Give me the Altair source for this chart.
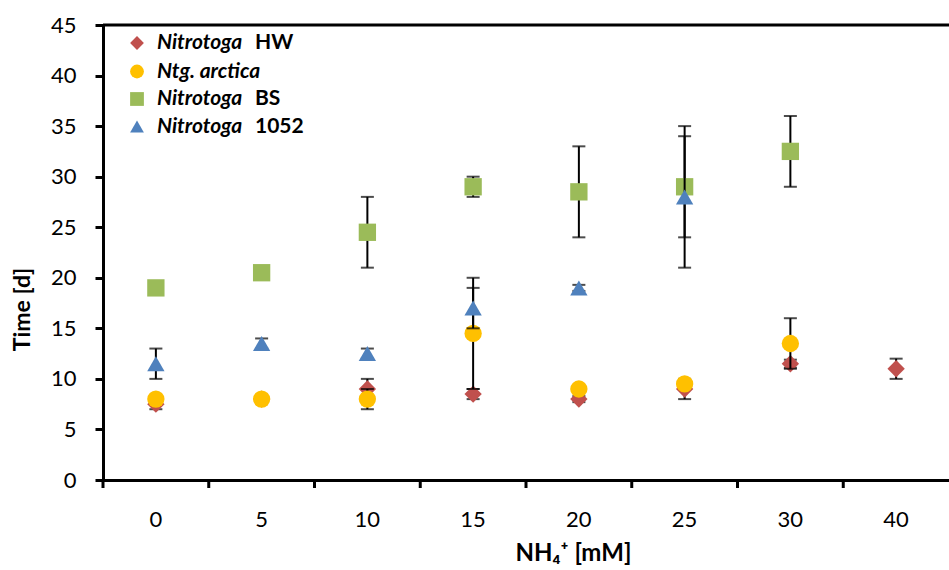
import altair as alt
import pandas as pd

categories = ["0", "5", "10", "15", "20", "25", "30", "40"]

series_names = ["Nitrotoga HW", "Ntg. arctica", "Nitrotoga BS", "Nitrotoga 1052"]
hw_vals = [7.5, 8.0, 9.0, 8.5, 8.0, 9.0, 11.5, 11.0]
hw_err = [0.5, 0.3, 1.0, 0.5, 0.3, 1.0, 0.4, 1.0]
arc_vals = [8.0, 8.0, 8.0, 14.5, 9.0, 9.5, 13.5, None]
arc_err = [0.3, 0.2, 1.0, 5.5, 0.3, 0.4, 2.5, None]
bs_vals = [19.0, 20.5, 24.5, 29.0, 28.5, 29.0, 32.5, None]
bs_err = [0.3, 0.3, 3.5, 1.0, 4.5, 5.0, 3.5, None]
n1052_vals = [11.5, 13.5, 12.5, 17.0, 19.0, 28.0, None, None]
n1052_err = [1.5, 0.5, 0.5, 2.0, 0.3, 7.0, None, None]

colors = ["#C0504D", "#FFC000", "#9BBB59", "#4F81BD"]
shapes = ["diamond", "circle", "square", "triangle-up"]
legend_italic = ["Nitrotoga", "Ntg. arctica", "Nitrotoga", "Nitrotoga"]
legend_plain = ["HW", "", "BS", "1052"]

all_vals = [hw_vals, arc_vals, bs_vals, n1052_vals]
all_errs = [hw_err, arc_err, bs_err, n1052_err]

FONT = "Lato"
W, H = 846, 455

rows = []
for name, vals, errs in zip(series_names, all_vals, all_errs):
    for c, v, e in zip(categories, vals, errs):
        if v is None:
            continue
        rows.append({"series": name, "conc": c, "value": v,
                     "low": v - e, "high": v + e})
df = pd.DataFrame(rows)

xscale = alt.Scale(domain=categories, paddingInner=0, paddingOuter=0)
xaxis = alt.Axis(title="NH₄⁺ [mM]", ticks=False, tickSize=0,
                 labelAngle=0, labelAlign="center", labelBaseline="top",
                 labelPadding=29, labelFontSize=22,
                 labelFont=FONT, labelColor="#000000",
                 domainColor="#000000", domainWidth=3,
                 titleFont=FONT, titleFontSize=24, titleFontWeight="bold",
                 titleColor="#000000", titleX=470, titleY=73,
                 titleAlign="center", titleBaseline="middle")
yscale = alt.Scale(domain=[0, 45], nice=False)
yaxis = alt.Axis(title="Time [d]", values=list(range(0, 46, 5)),
                 grid=False, tickSize=8, tickWidth=3, tickColor="#000000",
                 domainColor="#000000", domainWidth=3,
                 labelFont=FONT, labelFontSize=22, labelColor="#000000",
                 labelPadding=19,
                 titleFont=FONT, titleFontSize=23, titleFontWeight="bold",
                 titleColor="#000000", titleX=-81, titleY=284,
                 titleAngle=-90, titleAlign="center", titleBaseline="middle")

xenc = alt.X("conc:N", sort=categories, scale=xscale, axis=xaxis)


def yq(field):
    return alt.Y(field, scale=yscale, axis=yaxis)


layers = []

# x axis ticks at category boundaries
tick_df = pd.DataFrame({"conc": categories})
layers.append(alt.Chart(tick_df).mark_rule(color="#000000", strokeWidth=3).encode(
    x=alt.X("conc:N", sort=categories, bandPosition=0, scale=xscale, axis=xaxis),
    y=alt.value(H), y2=alt.value(H + 8)))

for name, col, shp in zip(series_names, colors, shapes):
    sdf = df[df["series"] == name]
    base = alt.Chart(sdf)
    layers.append(base.mark_rule(color="#000000", strokeWidth=2).encode(
        x=xenc, y=yq("low:Q"), y2="high:Q"))
    layers.append(base.mark_tick(color="#000000", size=13, thickness=2).encode(
        x=xenc, y=yq("low:Q")))
    layers.append(base.mark_tick(color="#000000", size=13, thickness=2).encode(
        x=xenc, y=yq("high:Q")))
    layers.append(base.mark_point(filled=True, opacity=1, size=300, shape=shp,
                                  color=col, strokeWidth=0).encode(
        x=xenc, y=yq("value:Q")))

# top border line at y = 45
top_df = pd.DataFrame({"value": [45]})
layers.append(alt.Chart(top_df).mark_rule(color="#000000", strokeWidth=3).encode(
    y=yq("value:Q"), x=alt.value(0), x2=alt.value(W)))

# manual legend
leg_y = [18, 46.5, 74, 101.5]
for i in range(4):
    ldf = pd.DataFrame({"series": [series_names[i]], "it": [legend_italic[i]],
                        "pl": [legend_plain[i]]})
    lb = alt.Chart(ldf)
    layers.append(lb.mark_point(filled=True, opacity=1, size=190, shape=shapes[i],
                                color=colors[i], strokeWidth=0).encode(
        x=alt.value(34), y=alt.value(leg_y[i])))
    layers.append(lb.mark_text(font=FONT, fontSize=21, fontWeight="bold",
                               fontStyle="italic", align="left", baseline="middle",
                               color="#000000").encode(
        x=alt.value(54), y=alt.value(leg_y[i]), text="it:N"))
    if legend_plain[i]:
        layers.append(lb.mark_text(font=FONT, fontSize=21, fontWeight="bold",
                                   align="left", baseline="middle",
                                   color="#000000").encode(
            x=alt.value(152), y=alt.value(leg_y[i]), text="pl:N"))

chart = alt.layer(*layers).properties(
    width=W, height=H,
    padding={"left": 103, "top": 25, "right": 0, "bottom": 90},
    autosize=alt.AutoSizeParams(type="none"),
    background="#ffffff",
).configure_view(stroke=None)

chart.save("out.html", embed_options={"renderer": "svg", "actions": False})
